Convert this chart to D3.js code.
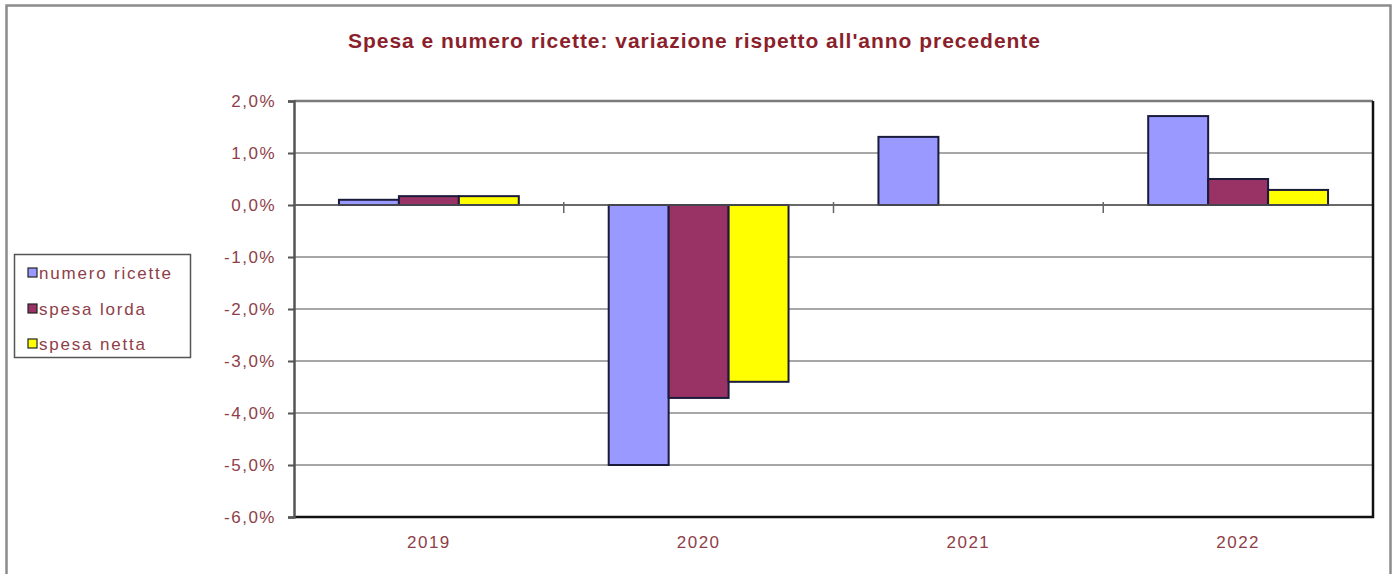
<!DOCTYPE html>
<html>
<head>
<meta charset="utf-8">
<script src="https://cdn.jsdelivr.net/npm/d3@7"></script>
<style>
  html, body { margin: 0; padding: 0; background: #fff; }
  svg { display: block; font-family: "Liberation Sans", Arial, sans-serif; }
</style>
</head>
<body>
<svg id="chart" width="1395" height="574"></svg>
<script>
const title = "Spesa e numero ricette: variazione rispetto all'anno precedente";
const years = ["2019", "2020", "2021", "2022"];
const seriesNames = ["numero ricette", "spesa lorda", "spesa netta"];
const numeroRicette = [0.10, -5.00, 1.31, 1.71];
const spesaLorda = [0.17, -3.71, null, 0.50];
const spesaNetta = [0.17, -3.40, null, 0.29];
const seriesColors = ["#9999FF", "#993366", "#FFFF00"];
const yTicks = [2, 1, 0, -1, -2, -3, -4, -5, -6];

const seriesValues = [numeroRicette, spesaLorda, spesaNetta];

const svg = d3.select("#chart");
const W = 1395, H = 574;
const plot = { left: 294, right: 1373, top: 101, bottom: 517 };
const labelColor = "#8e4048";

// outer frame
svg.append("path")
  .attr("d", `M6.5,${H} V5.5 H1390.5 V${H}`)
  .attr("fill", "none").attr("stroke", "#8c8c8c").attr("stroke-width", 2.5);

// title
svg.append("text")
  .attr("x", 694).attr("y", 48)
  .attr("text-anchor", "middle")
  .attr("font-size", 21).attr("font-weight", "bold")
  .attr("fill", "#8b1f2c")
  .attr("textLength", 692).attr("lengthAdjust", "spacing")
  .text(title);

const x0 = d3.scaleBand().domain(years).range([plot.left, plot.right]).paddingInner(0).paddingOuter(0);
const groupW = x0.bandwidth();
const barW = groupW / (3 + 1.5);
const x1 = d3.scaleBand().domain(seriesNames).range([0, barW * 3]);
const y = d3.scaleLinear().domain([-6, 2]).range([plot.bottom, plot.top]);

// gridlines
svg.append("g").selectAll("line").data(yTicks.filter(t => t !== -6 && t !== 2)).join("line")
  .attr("x1", plot.left).attr("x2", plot.right)
  .attr("y1", d => y(d)).attr("y2", d => y(d))
  .attr("stroke", "#8a8a8a").attr("stroke-width", 1.6);

// top border
svg.append("line").attr("x1", plot.left).attr("x2", plot.right)
  .attr("y1", plot.top).attr("y2", plot.top)
  .attr("stroke", "#7a7a7a").attr("stroke-width", 2.5);

// bars
years.forEach((yr, i) => {
  const gx = x0(yr) + (groupW - barW * 3) / 2;
  seriesNames.forEach((s, j) => {
    const v = seriesValues[j][i];
    if (v == null) return;
    svg.append("rect")
      .attr("x", gx + x1(s))
      .attr("width", x1.bandwidth())
      .attr("y", y(Math.max(0, v)))
      .attr("height", Math.abs(y(v) - y(0)))
      .attr("fill", seriesColors[j])
      .attr("stroke", "#1a1a3a").attr("stroke-width", 2);
  });
});

// zero line
svg.append("line").attr("x1", plot.left).attr("x2", plot.right)
  .attr("y1", y(0)).attr("y2", y(0))
  .attr("stroke", "#555").attr("stroke-width", 1.6);

// category separator ticks on zero line
svg.append("g").selectAll("line").data(years.slice(1)).join("line")
  .attr("x1", d => x0(d)).attr("x2", d => x0(d))
  .attr("y1", y(0) - 3).attr("y2", y(0) + 8)
  .attr("stroke", "#666").attr("stroke-width", 1.5);

// right & bottom borders (black)
svg.append("path")
  .attr("d", `M${plot.right},${plot.top} V${plot.bottom} H${plot.left}`)
  .attr("fill", "none").attr("stroke", "#111").attr("stroke-width", 2.5);

// y axis
const fmt = d => (d < 0 ? "-" : "") + Math.abs(d).toFixed(1).replace(".", ",") + "%";
const yAxis = d3.axisLeft(y).tickValues(yTicks).tickSize(6).tickPadding(12).tickFormat(fmt);
const ya = svg.append("g").attr("transform", `translate(${plot.left},0)`).call(yAxis);
ya.select(".domain").attr("stroke", "#555").attr("stroke-width", 2.5);
ya.selectAll(".tick line").attr("stroke", "#555").attr("stroke-width", 2);
ya.selectAll(".tick text").attr("font-size", 17).attr("fill", labelColor)
  .attr("letter-spacing", 1.5)
  .attr("font-family", "Liberation Sans, Arial, sans-serif");

// x labels
const xa = svg.append("g").attr("transform", `translate(0,${plot.bottom})`)
  .call(d3.axisBottom(x0).tickSize(0).tickPadding(19));
xa.select(".domain").remove();
xa.selectAll(".tick text").attr("font-size", 17).attr("fill", labelColor)
  .attr("letter-spacing", 1.5)
  .attr("font-family", "Liberation Sans, Arial, sans-serif");

// legend
const lg = svg.append("g");
lg.append("rect").attr("x", 14.5).attr("y", 254.5).attr("width", 176).attr("height", 103)
  .attr("fill", "#fff").attr("stroke", "#555").attr("stroke-width", 1.5);
const ly = [273, 309, 344];
seriesNames.forEach((s, j) => {
  lg.append("rect").attr("x", 28).attr("y", ly[j] - 5).attr("width", 9).attr("height", 9)
    .attr("fill", seriesColors[j]).attr("stroke", "#222").attr("stroke-width", 1.2);
  lg.append("text").attr("x", 39).attr("y", ly[j] + 6)
    .attr("font-size", 17).attr("fill", labelColor)
    .attr("letter-spacing", 1.8).text(s);
});
</script>
</body>
</html>
